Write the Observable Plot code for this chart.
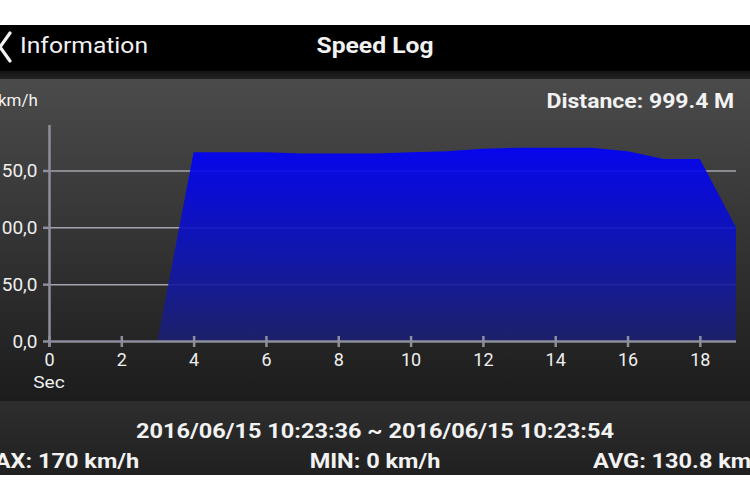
<!DOCTYPE html>
<html>
<head>
<meta charset="utf-8">
<script src="https://cdn.jsdelivr.net/npm/d3@7"></script>
<script src="https://cdn.jsdelivr.net/npm/@observablehq/plot@0.6"></script>
<style>
  html, body { margin: 0; padding: 0; background: #fff; width: 750px; height: 500px; overflow: hidden; font-family: Roboto, "Liberation Sans", sans-serif; }
  .abs { position: absolute; }
  #header { top: 25px; left: 0; width: 750px; height: 46px; background: #000; }
  #strip { top: 71px; left: 0; width: 750px; height: 8px; background: linear-gradient(#141414, #222); }
  #chart { top: 79px; left: 0; width: 750px; height: 322px; background: linear-gradient(#4b4b4b, #1c1c1c); }
  #footer { top: 401px; left: 0; width: 750px; height: 74px; background: linear-gradient(#2e2e2e, #202020); }
  .t { color: #f2f2f2; white-space: nowrap; line-height: 1.2; }
  .sl { transform: scaleX(1.12); transform-origin: left center; }
  .sc { transform: scaleX(1.12); transform-origin: center center; }
  .sr { transform: scaleX(1.15); transform-origin: right center; }
</style>
</head>
<body>
<div id="header" class="abs">
  <svg class="abs" style="left:0; top:0;" width="20" height="46"><polyline points="10,8 0,22 10,36" fill="none" stroke="#f2f2f2" stroke-width="3.2" stroke-linecap="round" stroke-linejoin="round"/></svg>
  <div class="abs t sl" style="left:20px; top:8px; font-size:22px;">Information</div>
  <div class="abs t sc" style="left:0; width:750px; text-align:center; top:8px; font-size:22px; font-weight:bold;">Speed Log</div>
</div>
<div id="strip" class="abs"></div>
<div id="chart" class="abs">
  <div class="abs t" style="left:-2px; top:11px; font-size:17px;">km/h</div>
  <div class="abs t sr" style="right:16px; top:10px; font-size:20px; font-weight:bold;">Distance: 999.4 M</div>
  <div id="plot" class="abs" style="left:0; top:0;"></div>
  <div class="abs t sc" style="left:29px; top:293px; font-size:17px; width:40px; text-align:center;">Sec</div>
</div>
<div id="footer" class="abs">
  <div class="abs t sc" style="left:0; width:750px; text-align:center; top:18px; font-size:21px; font-weight:bold;">2016/06/15 10:23:36 ~ 2016/06/15 10:23:54</div>
  <div class="abs t sl" style="left:-26px; top:48px; font-size:21px; font-weight:bold;">MAX: 170 km/h</div>
  <div class="abs t sc" style="left:0; width:750px; text-align:center; top:48px; font-size:21px; font-weight:bold;">MIN: 0 km/h</div>
  <div class="abs t sl" style="left:593px; top:48px; font-size:21px; font-weight:bold;">AVG: 130.8 km/h</div>
</div>
<script>
// Data
const seconds = [0, 1, 2, 3, 4, 5, 6, 7, 8, 9, 10, 11, 12, 13, 14, 15, 16, 17, 18, 19];
const speeds  = [0, 0, 0, 0, 166, 166, 166, 165, 165, 165, 166, 167, 169, 170, 170, 170, 167, 160, 160, 100];
const xTicks = [0, 2, 4, 6, 8, 10, 12, 14, 16, 18];
const yTicks = [0, 50, 100, 150];
const gridTicks = [50, 100, 150];

const data = seconds.map((t, i) => ({t, v: speeds[i]}));
const axisColor = "#8e8e9c";
const textColor = "#efefef";

const defs = () => {
  const d = d3.create("svg:defs");
  const g = d.append("linearGradient").attr("id", "blueGrad").attr("x1", 0).attr("y1", 0).attr("x2", 0).attr("y2", 1);
  g.append("stop").attr("offset", "0%").attr("stop-color", "#0000ff");
  g.append("stop").attr("offset", "55%").attr("stop-color", "#0d14b8");
  g.append("stop").attr("offset", "100%").attr("stop-color", "#1c2070");
  return d.node();
};

const chart = Plot.plot({
  width: 750,
  height: 322,
  marginLeft: 49,
  marginRight: 14,
  marginTop: 46,
  marginBottom: 60,
  style: {background: "transparent", color: textColor, fontFamily: "Roboto, 'Liberation Sans', sans-serif", fontSize: "17px", overflow: "visible"},
  x: {domain: [0, 19], axis: null},
  y: {domain: [0, 190], axis: null},
  marks: [
    defs,
    Plot.ruleY(gridTicks, {stroke: "#a3a3ad", strokeWidth: 1.5}),
    Plot.areaY(data, {x: "t", y: "v", fill: "url(#blueGrad)", fillOpacity: 0.9}),
    Plot.ruleY([0], {stroke: axisColor, strokeWidth: 2.5}),
    Plot.ruleX([0], {stroke: axisColor, strokeWidth: 2.5, insetBottom: -6}),
    Plot.ruleX(xTicks, {y1: 0, y2: 0, stroke: axisColor, strokeWidth: 2.5, insetTop: -5, insetBottom: -6}),
    Plot.ruleY(yTicks, {x1: 0, x2: 0, stroke: axisColor, strokeWidth: 2.5, insetLeft: -6}),
    Plot.axisY({ticks: yTicks, tickSize: 0, tickPadding: 12, fill: textColor, fontSize: 19, label: null, tickFormat: d => d.toFixed(1).replace(".", ",")}),
    Plot.axisX({ticks: xTicks, tickSize: 0, tickPadding: 12, fill: textColor, fontSize: 18, label: null, tickFormat: d => String(d)})
  ]
});
document.getElementById("plot").appendChild(chart);
</script>
</body>
</html>
